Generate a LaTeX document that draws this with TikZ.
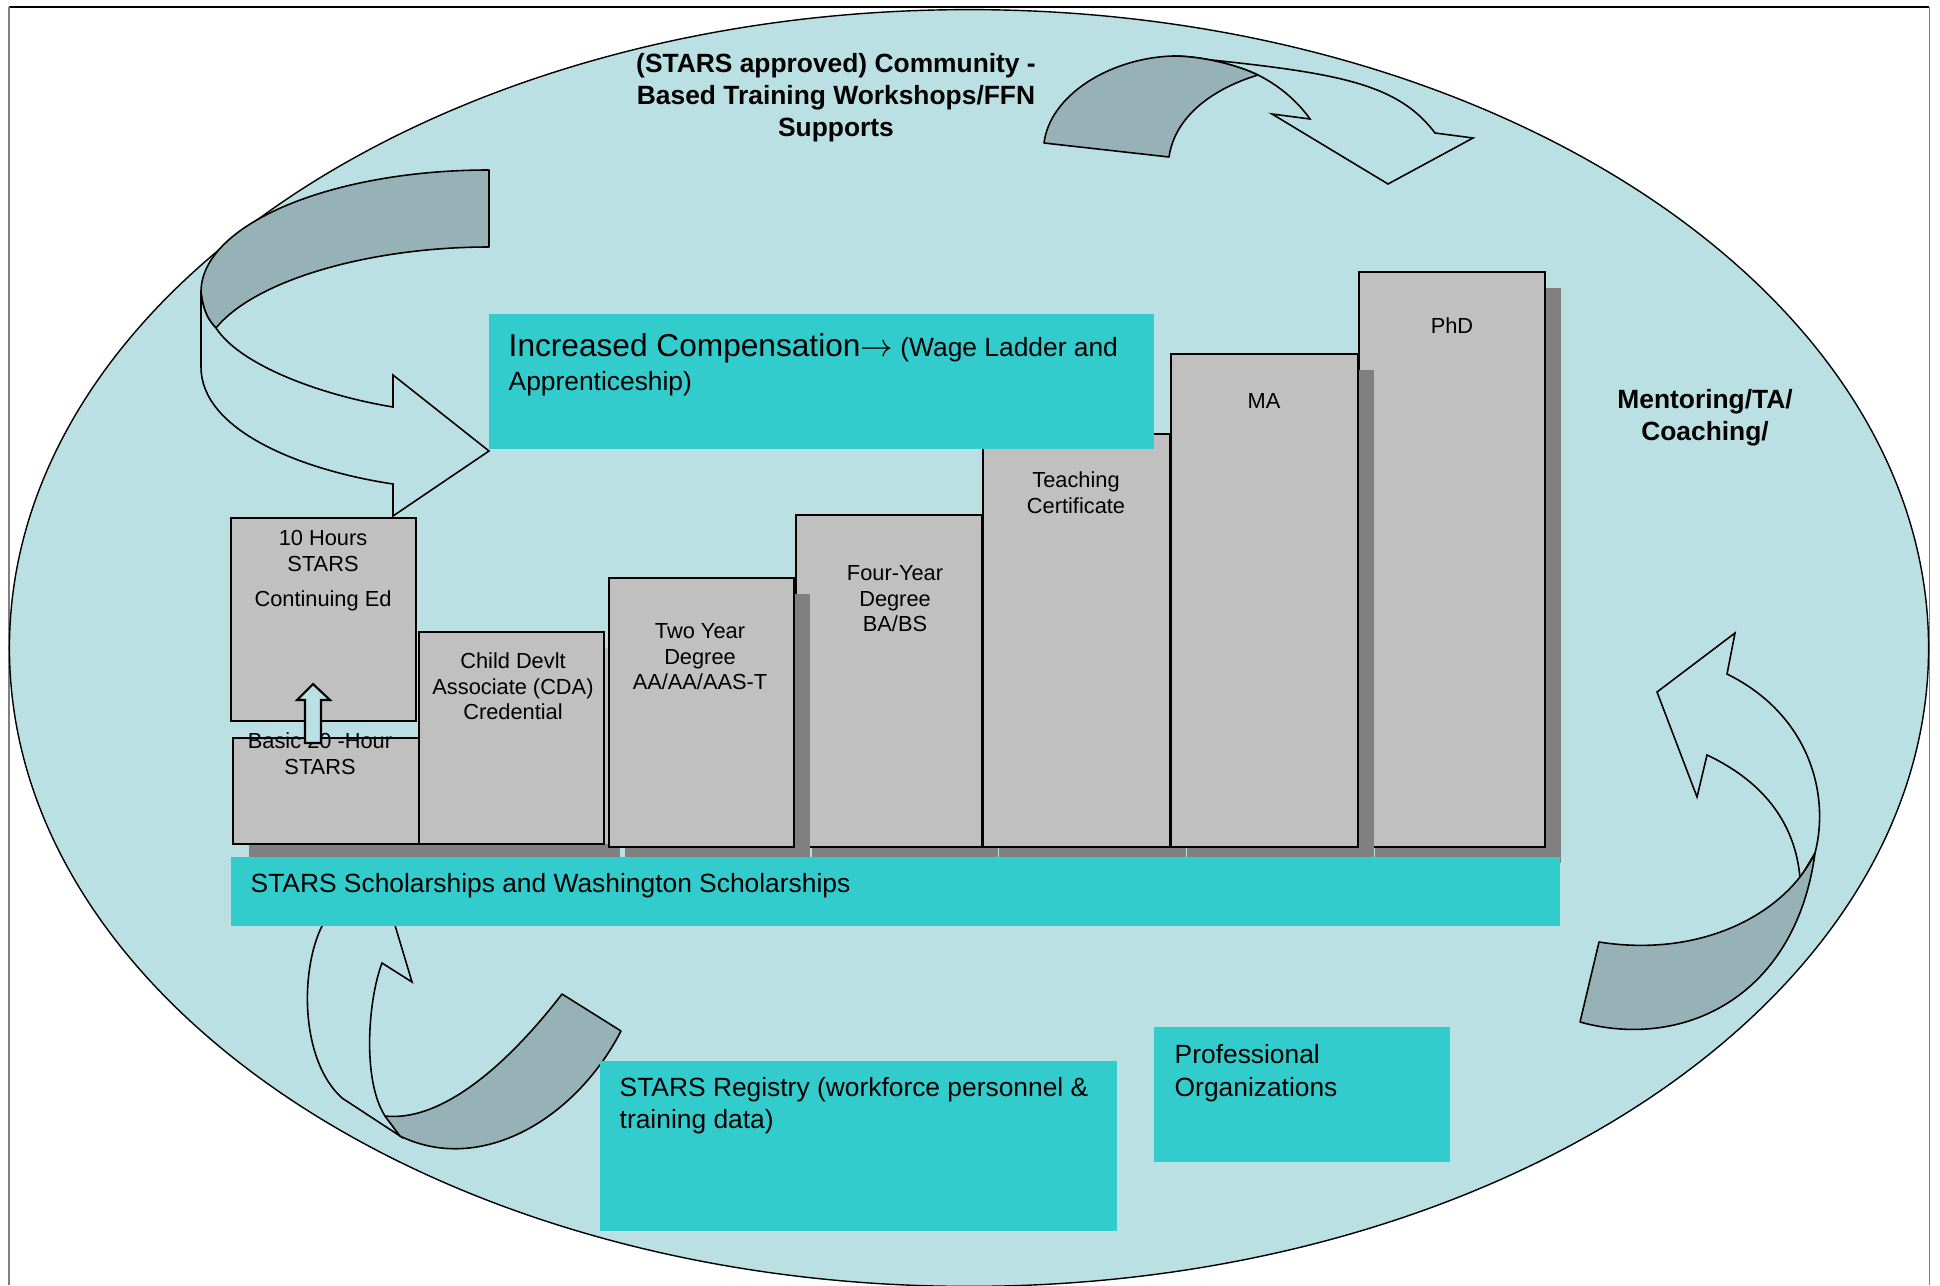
\documentclass[tikz,border=0pt]{standalone}
\usepackage{fontspec}
\setmainfont{Liberation Sans}
\definecolor{bgblue}{RGB}{186,224,227}
\definecolor{ladderteal}{RGB}{51,204,204}
\definecolor{stepgray}{RGB}{192,192,192}
\definecolor{shadowgray}{RGB}{128,128,128}
\definecolor{ribbon}{RGB}{150,178,182}
\begin{document}
\begin{tikzpicture}[x=0.01cm,y=-0.01cm,
    stepbox/.style={fill=stepgray,draw=black,line width=0.75pt},
    stepshadow/.style={fill=shadowgray},
    tealbox/.style={fill=ladderteal},
    back/.style={fill=ribbon,draw=black,line width=0.45pt,line join=round},
    front/.style={fill=bgblue,draw=black,line width=0.45pt},
    boxtext/.style={anchor=north,align=center,inner sep=0pt,font=\fontsize{6.2}{7.25}\selectfont},
    bartext/.style={anchor=north west,align=left,inner sep=0pt,font=\fontsize{7.5}{9.1}\selectfont},
    boldtext/.style={anchor=north,align=center,inner sep=0pt,font=\bfseries\fontsize{7.5}{9.1}\selectfont}]
    \useasboundingbox (0,0) rectangle (1940,1285);

    % 页面边框
    \draw[line width=0.7pt] (9,7) -- (1929,7);
    \draw[gray,line width=0.3pt] (9,7) -- (9,1285);
    \draw[gray,line width=0.3pt] (1929,7) -- (1929,1285);

    % 背景椭圆
    \draw[fill=bgblue,line width=0.4pt] (969,648) ellipse [x radius=9.59cm,y radius=6.38cm];

    % 左上弯箭头
    \draw[back] (489,170) .. controls (330,170) and (201,225) .. (201,292)
        .. controls (203,310) and (208,320) .. (216,328)
        .. controls (255,280) and (370,247) .. (489,247) -- cycle;
    \draw[front] (201,292) -- (201,367) .. controls (201,430) and (300,470) .. (393,484)
        -- (393,516) -- (489,451) -- (393,375) -- (393,407)
        .. controls (320,395) and (240,365) .. (216,328)
        .. controls (208,320) and (203,310) .. (201,292) -- cycle;

    % 上方弯箭头
    \draw[front] (1173,56) .. controls (1330,72) and (1395,80) .. (1435,133)
        -- (1473,138) -- (1388,184) -- (1272,114) -- (1310,119)
        .. controls (1298,102) and (1280,86) .. (1258,75)
        .. controls (1235,64) and (1200,56) .. (1173,56) -- cycle;
    \draw[back] (1044,143) .. controls (1050,95) and (1110,58) .. (1173,56)
        .. controls (1200,56) and (1235,64) .. (1258,75)
        .. controls (1215,88) and (1175,115) .. (1169,157) -- cycle;

    % 右侧弯箭头
    \draw[front] (1800,878) .. controls (1795,820) and (1760,780) .. (1707,755)
        -- (1697,797) -- (1657,692) -- (1735,633) -- (1727,674)
        .. controls (1810,715) and (1830,795) .. (1815,853) -- cycle;
    \draw[back] (1599,942) -- (1580,1022) .. controls (1680,1050) and (1795,1000) .. (1815,853)
        .. controls (1785,915) and (1700,958) .. (1599,942) -- cycle;

    % 左下弯箭头
    \draw[front] (400,1136) -- (342,1098) .. controls (300,1060) and (300,970) .. (322,926)
        -- (325,910) -- (295,915) -- (379,872) -- (412,982) -- (382,963)
        .. controls (368,1000) and (362,1080) .. (385,1116) -- cycle;
    \draw[back] (562,994) -- (621,1031) .. controls (575,1120) and (480,1175) .. (400,1136)
        -- (385,1116) .. controls (440,1122) and (505,1068) .. (562,994) -- cycle;

    % 阶梯
    \fill[stepshadow] (1375,288) rectangle (1561,863);
    \draw[stepbox] (1359,272) rectangle (1545,847);
    \fill[stepshadow] (812,531) rectangle (998,863);
    \draw[stepbox] (796,515) rectangle (982,847);
    \fill[stepshadow] (999,450) rectangle (1186,863);
    \draw[stepbox] (983,434) rectangle (1170,847);
    \fill[stepshadow] (1187,370) rectangle (1374,863);
    \draw[stepbox] (1171,354) rectangle (1358,847);
    \fill[stepshadow] (249,754) rectangle (435,860);
    \draw[stepbox] (233,738) rectangle (419,844);
    \fill[stepshadow] (435,648) rectangle (620,860);
    \fill[stepgray] (604,648) rectangle (609,844);
    \draw[stepbox] (419,632) rectangle (604,844);
    \fill[stepshadow] (625,594) rectangle (810,863);
    \draw[stepbox] (609,578) rectangle (794,847);
    \draw[stepbox] (231,518) rectangle (416,721);

    % 青色方框
    \fill[tealbox] (489,314) rectangle (1154,449);
    \fill[tealbox] (231,857) rectangle (1560,926);
    \fill[tealbox] (600,1061) rectangle (1117,1231);
    \fill[tealbox] (1154,1027) rectangle (1450,1162);

    % 文字
    \node[boldtext] (workshops) at (836,53) {(STARS approved) Community -\\Based Training Workshops/FFN\\Supports};
    \node[boldtext] (mentor) at (1705,389) {Mentoring/TA/\\Coaching/};
    \node[bartext,font=\fontsize{7.5}{9.5}\selectfont] (comp) at (508,333)
        {{\fontsize{9}{9.5}\selectfont Increased Compensation$\rightarrow$} (Wage Ladder and\\Apprenticeship)};
    \node[bartext] (schol) at (250,873) {STARS Scholarships and Washington Scholarships};
    \node[bartext] (registry) at (619,1077) {STARS Registry (workforce personnel \&\\training data)};
    \node[bartext,font=\fontsize{7.5}{9.4}\selectfont] (proforg) at (1174,1044) {Professional\\Organizations};

    \node[boxtext] (phd) at (1452,317) {PhD};
    \node[boxtext] (ma) at (1264,393) {MA};
    \node[boxtext] (teach) at (1076,471) {Teaching\\Certificate};
    \node[boxtext] (fouryr) at (895,565) {Four-Year\\Degree\\BA/BS};
    \node[boxtext] (twoyr) at (700,623) {Two Year\\Degree\\AA/AA/AAS-T};
    \node[boxtext] (cda) at (513,652) {Child Devlt\\Associate (CDA)\\Credential};
    \node[boxtext] (basic) at (320,732) {Basic 20 -Hour\\STARS};
    \node[boxtext] (tenhrs) at (323,530) {10 Hours\\STARS\\[2.6pt]Continuing Ed};

    % 小箭头
    \draw[front,line width=0.6pt] (305,743) -- (305,700) -- (297,700) -- (313,684)
        -- (330,700) -- (321,700) -- (321,743) -- cycle;
\end{tikzpicture}
\end{document}
